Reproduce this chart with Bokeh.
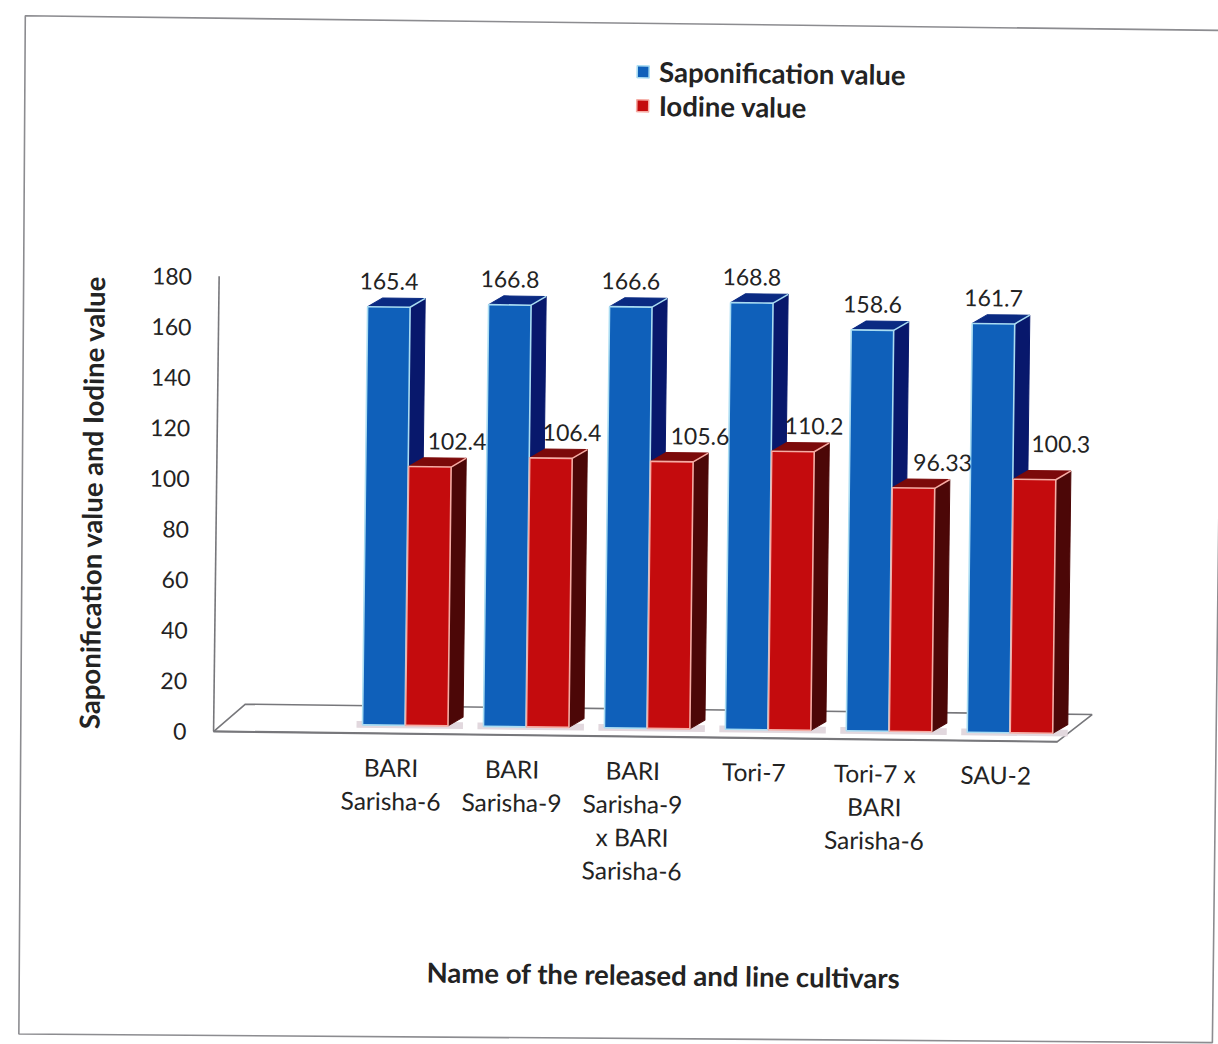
import numpy as np
from bokeh.core.properties import value
from bokeh.embed import file_html
from bokeh.models import FixedTicker, Label, Legend, LegendItem, LinearAxis, Range1d
from bokeh.plotting import figure
from bokeh.resources import INLINE

cultivars = ["BARI\nSarisha-6", "BARI\nSarisha-9", "BARI\nSarisha-9\nx BARI\nSarisha-6",
             "Tori-7", "Tori-7 x\nBARI\nSarisha-6", "SAU-2"]
saponification = [165.4, 166.8, 166.6, 168.8, 158.6, 161.7]
iodine = [102.4, 106.4, 105.6, 110.2, 96.33, 100.3]
saponification_labels = ["165.4", "166.8", "166.6", "168.8", "158.6", "161.7"]
iodine_labels = ["102.4", "106.4", "105.6", "110.2", "96.33", "100.3"]
y_ticks = [0, 20, 40, 60, 80, 100, 120, 140, 160, 180]

TILT_DEG = 0.7
W, H = 1215, 1029
# A rotated element reports its enclosing box, and the canvas takes that size
TILT = np.radians(TILT_DEG)
CANVAS_W = W * np.cos(TILT) + H * np.sin(TILT)
CANVAS_H = W * np.sin(TILT) + H * np.cos(TILT)

GROUP_PX, ZERO_X, ZERO_Y, UNIT_PX = 121.0, 400.0, 729.0, 2.53
FONT = "Lato"
INK = "#232323"
AXIS_GREY = "#77777b"


def px_x(px):
    return (px - ZERO_X) / GROUP_PX


def px_y(px):
    return (ZERO_Y - px) / UNIT_PX


p = figure(width=W, height=H, output_backend="svg", toolbar_location=None,
           x_range=Range1d(px_x(0), px_x(CANVAS_W)), y_range=Range1d(px_y(CANVAS_H), px_y(0)),
           x_axis_type=None, y_axis_type=None, min_border=0, outline_line_color=None,
           background_fill_color="white", border_fill_color="white")

# The sheet sits slightly askew on the page
p.styles = {"transform": f"rotate({TILT_DEG}deg)", "transform-origin": "0 0"}

# Thin rule round the chart area
p.patch([px_x(25), px_x(1225), px_x(1225), px_x(31)], [px_y(15), px_y(15), px_y(1028), px_y(1034)],
        fill_color=None, line_color="#8c8c90", line_width=1.6)

# Floor of the 3-D plot
p.patch([px_x(222), px_x(1066), px_x(1100.7), px_x(253.6)], [0, 0, 11, 11],
        fill_color="white", line_color=AXIS_GREY, line_width=1.6)

BAR_W = 42.5 / GROUP_PX
DX = 15.0 / GROUP_PX
DY = 9.0 / UNIT_PX
LIFT = 3.4
BLUE_LEFT, RED_LEFT = -29.0, 14.0

# Soft contact shadow on the floor, under both bars of each group
starts = np.arange(6) + BLUE_LEFT / GROUP_PX
ends = np.arange(6) + RED_LEFT / GROUP_PX + BAR_W + DX
p.quad(left=starts - 6 / GROUP_PX, right=ends, bottom=LIFT - 1.2, top=LIFT + 1.5,
       fill_color="#e2d8de", line_color=None)


def bar_series(values, left_px, front, side, top, edge):
    lefts = np.arange(len(values)) + left_px / GROUP_PX
    rights = lefts + BAR_W
    heights = np.array(values) + LIFT
    p.patches([[r, r + DX, r + DX, r] for r in rights],
              [[LIFT, LIFT + DY, h + DY, h] for h in heights],
              fill_color=side, line_color=side, line_width=1)
    p.patches([[l, r, r + DX, l + DX] for l, r in zip(lefts, rights)],
              [[h, h, h + DY, h + DY] for h in heights],
              fill_color=top, line_color=top, line_width=1)
    p.segment(x0=rights, y0=heights, x1=rights + DX, y1=heights + DY, line_color=edge, line_width=1.5)
    return p.quad(left=lefts, right=rights, bottom=LIFT, top=heights,
                  fill_color=front, line_color=edge, line_width=1.6)


blue_front = bar_series(saponification, BLUE_LEFT, "#0f60ba", "#08186c", "#0a2a82", "#a9dcf2")
red_front = bar_series(iodine, RED_LEFT, "#c40b0d", "#4c0707", "#7c0a0a", "#f5aca4")

# Value labels above each bar; the iodine ones sit off to the right of their bars
blue_x = np.arange(6) + (BLUE_LEFT + 21.0) / GROUP_PX
red_x = np.arange(6) + np.array([62, 56, 63, 56, 64, 61]) / GROUP_PX
blue_lift = 26.0 / UNIT_PX
red_lift = np.array([26, 26, 26, 26, 26, 36]) / UNIT_PX
p.text(x=blue_x, y=np.array(saponification) + LIFT + blue_lift, text=saponification_labels,
       text_font=value(FONT), text_font_size="23px", text_color=INK,
       text_align="center", text_baseline="middle")
p.text(x=red_x, y=np.array(iodine) + LIFT + red_lift, text=iodine_labels,
       text_font=value(FONT), text_font_size="23px", text_color=INK,
       text_align="center", text_baseline="middle")

y_axis = LinearAxis(ticker=FixedTicker(ticks=y_ticks), fixed_location=px_x(222), bounds=(0, 180),
                    major_tick_line_color=None, minor_tick_line_color=None,
                    major_label_standoff=21, major_label_text_font=FONT,
                    major_label_text_font_size="23px", major_label_text_color=INK,
                    axis_line_color=AXIS_GREY, axis_line_width=1.6,
                    axis_label="Saponification value and Iodine value", axis_label_standoff=38,
                    axis_label_text_font=FONT, axis_label_text_font_style="bold",
                    axis_label_text_font_size="27.5px", axis_label_text_color=INK)
p.add_layout(y_axis, "left")

x_axis = LinearAxis(ticker=FixedTicker(ticks=list(range(6))), fixed_location=0,
                    bounds=(px_x(222), px_x(1066)),
                    major_label_overrides={i: c for i, c in enumerate(cultivars)},
                    major_tick_line_color=None, minor_tick_line_color=None,
                    major_label_standoff=13, major_label_text_font=FONT,
                    major_label_text_font_size="24.5px", major_label_text_color=INK,
                    major_label_text_line_height=1.15,
                    axis_line_color=AXIS_GREY, axis_line_width=1.6)
p.add_layout(x_axis, "below")

p.add_layout(Label(x=px_x(675), y=px_y(967), text="Name of the released and line cultivars",
                   text_font=FONT, text_font_style="bold", text_font_size="27.5px",
                   text_color=INK, text_align="center", text_baseline="middle"))

legend = Legend(items=[LegendItem(label="Saponification value", renderers=[blue_front]),
                       LegendItem(label="Iodine value", renderers=[red_front])],
                location=(636, CANVAS_H - 115), orientation="vertical", background_fill_alpha=0,
                border_line_color=None, glyph_width=15, glyph_height=15, label_standoff=9,
                spacing=1, padding=6, margin=0, label_text_font=FONT,
                label_text_font_style="bold", label_text_font_size="27.5px", label_text_color=INK)
p.add_layout(legend, "center")

html = file_html(p, INLINE)
html = html.replace("<head>", "<head><style>html,body{overflow:hidden}</style>", 1)
open("out.html", "w").write(html)
